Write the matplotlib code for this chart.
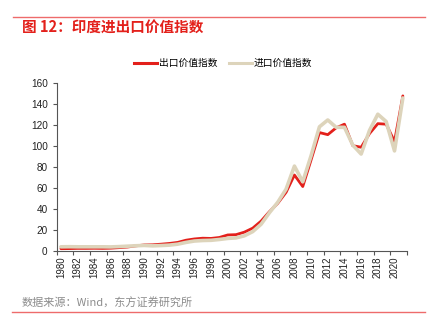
import matplotlib
matplotlib.use("Agg")
import matplotlib.pyplot as plt
from matplotlib.lines import Line2D

plt.rcParams['font.family'] = ['Noto Sans CJK SC', 'DejaVu Sans']

years = list(range(1980, 2022))
export_idx = [2.2, 2.3, 2.5, 2.5, 2.6, 2.5, 2.7, 3.2, 3.8, 4.9,
              5.8, 5.9, 6.5, 7.2, 8.2, 10.3, 11.5, 12.2, 12.0, 12.9,
              15.3, 15.6, 18.0, 21.8, 28.5, 37.5, 45.5, 56.0, 72.5, 61.5,
              87.0, 113.0, 111.0, 117.5, 121.0, 100.5, 99.0, 112.0, 121.5, 121.0,
              104.5, 148.0]
import_idx = [4.0, 4.1, 4.0, 4.0, 4.0, 4.0, 3.9, 4.2, 4.6, 5.0,
              5.3, 4.9, 5.2, 5.6, 6.5, 8.2, 9.5, 10.0, 10.2, 11.0,
              12.0, 12.5, 14.5, 18.5, 25.5, 36.5, 46.5, 59.0, 81.0, 66.0,
              91.0, 118.5, 125.0, 118.0, 118.0, 101.0, 92.5, 115.0, 130.5, 123.5,
              95.5, 146.0]
labels = ['出口价值指数', '进口价值指数']
title = '图 12：印度进出口价值指数'
source = '数据来源：Wind，东方证券研究所'

red = '#e3201b'
beige = '#ddd4bb'

fig = plt.figure(figsize=(4.33, 3.25), dpi=100)
ax = fig.add_axes([0.131, 0.2277, 0.809, 0.516])

ax.plot(years, export_idx, color=red, lw=2.0, solid_capstyle='round', zorder=2)
ax.plot(years, import_idx, color=beige, lw=2.6, solid_capstyle='round', zorder=3)

ax.set_xlim(1979.5, 2021.5)
ax.set_ylim(0, 160)
ax.set_yticks(range(0, 161, 20))
ax.set_xticks(range(1980, 2021, 2))
ax.set_xticklabels([str(y) for y in range(1980, 2021, 2)], rotation=90, fontsize=7,
                   family=['Liberation Sans', 'DejaVu Sans'])
ax.set_xticks([1979.5 + 2 * k for k in range(22)], minor=True)
ax.tick_params(axis='x', which='major', length=0, pad=4, colors='#222222')
ax.tick_params(axis='x', which='minor', length=3, color='#555555', width=0.8)
ax.tick_params(axis='y', length=3, color='#555555', width=0.8, labelsize=7.2, colors='#222222')
for lab in ax.get_yticklabels():
    lab.set_family(['Liberation Sans', 'DejaVu Sans'])
for s in ['top', 'right']:
    ax.spines[s].set_visible(False)
for s in ['left', 'bottom']:
    ax.spines[s].set_color('#555555')
    ax.spines[s].set_linewidth(0.8)

handles = [Line2D([], [], color=red, lw=2.2), Line2D([], [], color=beige, lw=2.2)]
fig.legend(handles, labels, loc='center', bbox_to_anchor=(0.515, 0.806), ncol=2,
           frameon=False, fontsize=7, handlelength=2.4, handletextpad=0.15,
           columnspacing=1.2)

fig.add_artist(Line2D([13 / 433, 425 / 433], [1 - 16.7 / 325, 1 - 16.7 / 325],
                      color='#ee6b6b', lw=1.0))
fig.text(22.5 / 433, 1 - 28 / 325, title, color=red, fontsize=10.5, fontweight='bold',
         va='center', ha='left')
fig.text(22 / 433, 1 - 303 / 325, source, color='#8c8c8c', fontsize=8,
         va='center', ha='left')
fig.add_artist(Line2D([12 / 433, 425 / 433], [1 - 312 / 325, 1 - 312 / 325],
                      color='#ee6b6b', lw=1.0))

fig.savefig('out.png', dpi=100)
